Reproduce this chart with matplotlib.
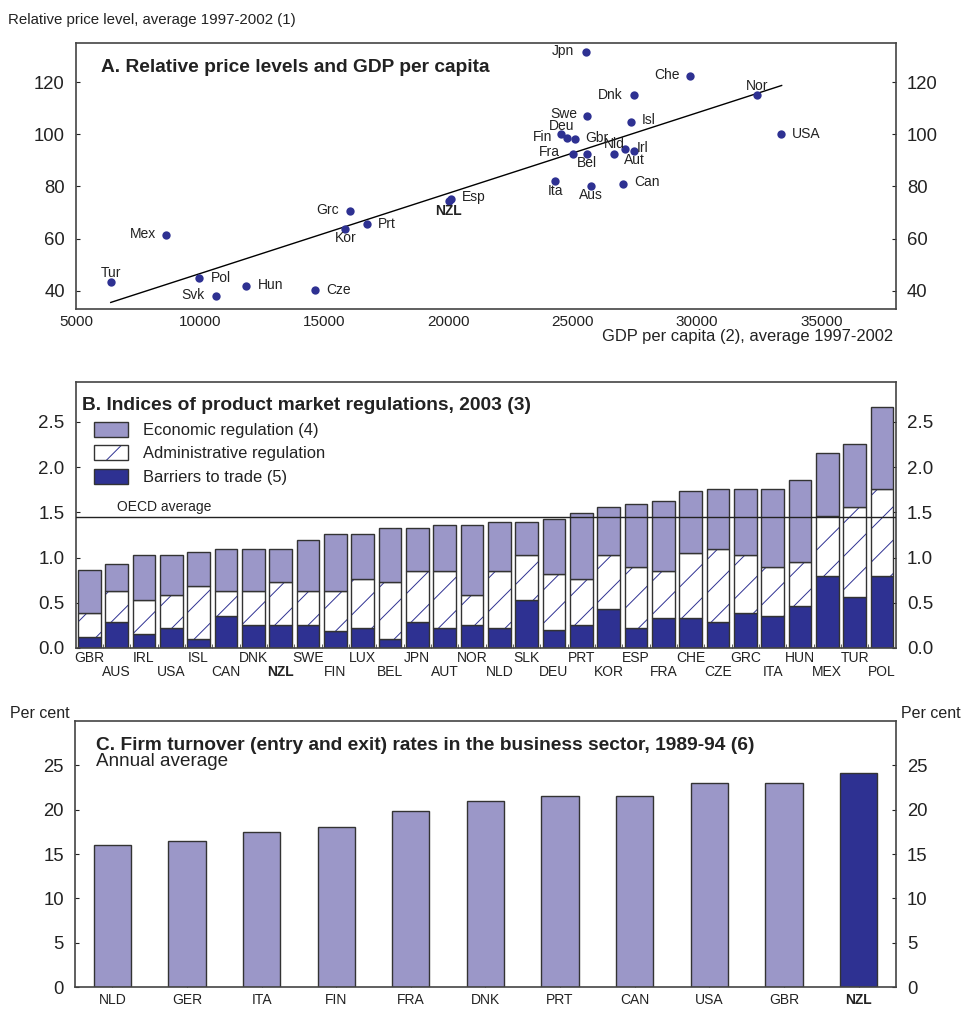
import numpy as np
import matplotlib.pyplot as plt
import matplotlib.patches as mpatches
from matplotlib.legend_handler import HandlerTuple

plt.rcParams['font.family'] = ['Liberation Sans', 'DejaVu Sans']
plt.rcParams['hatch.linewidth'] = 0.7

LIGHT = '#9b97c8'
DARK = '#2e3192'
EDGE = '#333333'
FRAME = '#444444'

# Panel A: relative price level vs GDP per capita
countries_a = ['Tur', 'Mex', 'Pol', 'Svk', 'Hun', 'Cze', 'Kor', 'Grc', 'Prt', 'NZL',
               'Esp', 'Ita', 'Fin', 'Deu', 'Fra', 'Gbr', 'Bel', 'Jpn', 'Swe', 'Aus',
               'Nld', 'Can', 'Irl', 'Isl', 'Aut', 'Dnk', 'Che', 'Nor', 'USA']
gdp_pc = [6395, 8630, 9965, 10635, 11836, 14615, 15846, 16046, 16716, 20000,
          20100, 24294, 24534, 24747, 24988, 25068, 25549, 25521, 25549, 25710,
          26672, 27020, 27114, 27325, 27474, 27446, 29731, 32418, 33368]
price_level = [43.2, 61.3, 44.7, 37.8, 41.8, 40.4, 63.8, 70.4, 65.7, 74.5,
               75.0, 82.1, 100.0, 98.4, 92.5, 98.0, 92.5, 131.5, 107.0, 80.0,
               92.5, 81.0, 94.3, 104.8, 93.6, 114.9, 122.3, 114.9, 100.0]
trend_gdp = [6400, 33400]
trend_price = [35.5, 118.7]

# Panel B: product market regulation indices
countries_b = ['GBR', 'AUS', 'IRL', 'USA', 'ISL', 'CAN', 'DNK', 'NZL', 'SWE', 'FIN',
               'LUX', 'BEL', 'JPN', 'AUT', 'NOR', 'NLD', 'SLK', 'DEU', 'PRT', 'KOR',
               'ESP', 'FRA', 'CHE', 'CZE', 'GRC', 'ITA', 'HUN', 'MEX', 'TUR', 'POL']
barriers = [0.12, 0.29, 0.16, 0.22, 0.10, 0.35, 0.25, 0.25, 0.25, 0.19,
            0.22, 0.10, 0.29, 0.22, 0.25, 0.22, 0.53, 0.20, 0.25, 0.43,
            0.22, 0.33, 0.33, 0.29, 0.39, 0.35, 0.46, 0.80, 0.56, 0.80]
admin = [0.27, 0.34, 0.37, 0.37, 0.59, 0.28, 0.38, 0.48, 0.38, 0.44,
         0.54, 0.63, 0.56, 0.63, 0.34, 0.63, 0.50, 0.62, 0.51, 0.60,
         0.67, 0.52, 0.72, 0.80, 0.64, 0.54, 0.49, 0.66, 1.00, 0.96]
economic = [0.47, 0.30, 0.50, 0.44, 0.37, 0.46, 0.46, 0.36, 0.56, 0.63,
            0.50, 0.60, 0.48, 0.51, 0.77, 0.54, 0.36, 0.61, 0.73, 0.53,
            0.70, 0.77, 0.68, 0.67, 0.73, 0.87, 0.91, 0.70, 0.70, 0.90]
oecd_avg = 1.45

# Panel C: firm turnover rates
countries_c = ['NLD', 'GER', 'ITA', 'FIN', 'FRA', 'DNK', 'PRT', 'CAN', 'USA', 'GBR', 'NZL']
turnover = [16.0, 16.5, 17.5, 18.0, 19.8, 21.0, 21.5, 21.5, 23.0, 23.0, 24.1]

# label placement for the scatter: (dx, dy) in points, ha
label_pos = {
    'Tur': (0, 6.5, 'center'), 'Mex': (-7.5, 0.5, 'right'), 'Pol': (8, 0, 'left'),
    'Svk': (-8.5, 1, 'right'), 'Hun': (8.5, 1, 'left'), 'Cze': (8, 0, 'left'),
    'Kor': (0, -7, 'center'), 'Grc': (-8.5, 1, 'right'), 'Prt': (8, 0, 'left'),
    'NZL': (0, -7.5, 'center'), 'Esp': (8, 1.5, 'left'), 'Ita': (0, -7, 'center'),
    'Fin': (-6.5, -2, 'right'), 'Deu': (-3.6, 9, 'center'), 'Fra': (-9, 1, 'right'),
    'Gbr': (8, 1, 'left'), 'Bel': (0, -6.5, 'center'), 'Jpn': (-8.5, 1, 'right'),
    'Swe': (-7, 1.5, 'right'), 'Aus': (0, -6.5, 'center'), 'Nld': (0, 7, 'center'),
    'Can': (8, 1, 'left'), 'Irl': (8, 1, 'left'), 'Isl': (8, 1.5, 'left'),
    'Aut': (0, -6.5, 'center'), 'Dnk': (-8, 0.5, 'right'), 'Che': (-8, 1, 'right'),
    'Nor': (0, 6.5, 'center'), 'USA': (8, 0.5, 'left'),
}

fig = plt.figure(figsize=(9.64, 10.09), dpi=100)
TXT = '#222222'


def style_frame(ax):
    for s in ax.spines.values():
        s.set_color(FRAME)
        s.set_linewidth(1.2)


#
# Panel A
#
axA = fig.add_axes([0.0788, 0.6938, 0.8506, 0.2636])
style_frame(axA)
axA.plot(trend_gdp, trend_price, color='black', lw=1.0, zorder=2)
axA.scatter(gdp_pc, price_level, s=36, color=DARK, zorder=3, linewidths=0)
for c, x, y in zip(countries_a, gdp_pc, price_level):
    dx, dy, ha = label_pos[c]
    axA.annotate(c, (x, y), xytext=(dx, dy), textcoords='offset points',
                 ha=ha, va='center', fontsize=10, color=TXT,
                 fontweight='bold' if c == 'NZL' else 'normal')
axA.set_xlim(5000, 38000)
axA.set_ylim(33, 135)
axA.set_xticks([5000, 10000, 15000, 20000, 25000, 30000, 35000])
axA.set_yticks([40, 60, 80, 100, 120])
axA.tick_params(axis='y', direction='in', length=3, right=True, labelright=True,
                labelsize=13.3, pad=8, colors=TXT)
axA.tick_params(axis='x', direction='in', length=0, labelsize=11, pad=4, colors=TXT)
axA.text(0.030, 0.891, 'A. Relative price levels and GDP per capita', transform=axA.transAxes,
         fontsize=13.8, fontweight='bold', color=TXT, va='baseline')
fig.text(8 / 964, 1 - 20 / 1009, 'Relative price level, average 1997-2002 (1)',
         fontsize=10.8, color=TXT, va='center')
fig.text(893 / 964, 1 - 337 / 1009, 'GDP per capita (2), average 1997-2002',
         fontsize=11.9, color=TXT, va='center', ha='right')

#
# Panel B
#
axB = fig.add_axes([0.0785, 0.3578, 0.8506, 0.2636])
style_frame(axB)
xb = np.arange(len(countries_b))
bar_w = 0.82
bar_b = np.array(barriers)
bar_a = np.array(admin)
bar_e = np.array(economic)
axB.bar(xb, bar_b, bar_w, color=DARK, edgecolor=EDGE, lw=1, zorder=2)
axB.bar(xb, bar_a, bar_w, bottom=bar_b, facecolor='white', edgecolor=DARK,
        hatch='/', lw=0, zorder=2)
axB.bar(xb, bar_a, bar_w, bottom=bar_b, fill=False, edgecolor=EDGE, lw=1, zorder=2)
axB.bar(xb, bar_e, bar_w, bottom=bar_b + bar_a, color=LIGHT, edgecolor=EDGE, lw=1, zorder=2)
axB.axhline(oecd_avg, color=TXT, lw=1, zorder=3)
axB.text(1.0, oecd_avg + 0.03, 'OECD average', fontsize=10, color=TXT, va='bottom')
axB.set_xlim(-0.5, len(countries_b) - 0.5)
axB.set_ylim(0, 2.94)
axB.set_yticks([0, 0.5, 1.0, 1.5, 2.0, 2.5])
axB.set_yticklabels(['0.0', '0.5', '1.0', '1.5', '2.0', '2.5'])
axB.tick_params(axis='y', direction='in', length=3, right=True, labelright=True,
                labelsize=13.5, pad=8, colors=TXT)
axB.set_xticks(xb)
axB.set_xticklabels([c if i % 2 == 0 else '\n' + c for i, c in enumerate(countries_b)])
axB.set_xticks(np.arange(len(countries_b) - 1) + 0.5, minor=True)
axB.tick_params(axis='x', which='major', length=0, labelsize=10, pad=2, colors=TXT)
axB.tick_params(axis='x', which='minor', direction='in', length=3, color=FRAME)
for i, lab in enumerate(axB.get_xticklabels()):
    lab.set_linespacing(1.05)
    if countries_b[i] == 'NZL':
        lab.set_fontweight('bold')
axB.text(0.0073, 0.895, 'B. Indices of product market regulations, 2003 (3)',
         transform=axB.transAxes, fontsize=13.8, fontweight='bold', color=TXT,
         va='baseline')
h_econ = mpatches.Patch(facecolor=LIGHT, edgecolor=EDGE, lw=1)
h_admin = (mpatches.Patch(facecolor='white', edgecolor=DARK, hatch='/', lw=0),
           mpatches.Patch(fill=False, edgecolor=EDGE, lw=1))
h_bar = mpatches.Patch(facecolor=DARK, edgecolor=EDGE, lw=1)
axB.legend([h_econ, h_admin, h_bar],
           ['Economic regulation (4)', 'Administrative regulation', 'Barriers to trade (5)'],
           handler_map={tuple: HandlerTuple(ndivide=1)},
           loc='upper left', bbox_to_anchor=(0.0223, 0.850), frameon=False,
           fontsize=11.9, borderpad=0, borderaxespad=0, handlelength=2.05,
           handleheight=1.0, labelspacing=0.45, handletextpad=0.9, labelcolor=TXT)

#
# Panel C
#
axC = fig.add_axes([0.0778, 0.0218, 0.8516, 0.2636])
style_frame(axC)
xc = np.arange(len(countries_c))
colors_c = [DARK if c == 'NZL' else LIGHT for c in countries_c]
axC.bar(xc, turnover, 0.5, color=colors_c, edgecolor=EDGE, lw=1, zorder=2)
axC.set_xlim(-0.5, len(countries_c) - 0.5)
axC.set_ylim(0, 30)
axC.set_yticks([0, 5, 10, 15, 20, 25])
axC.tick_params(axis='y', direction='in', length=3, right=True, labelright=True,
                labelsize=13.3, pad=8, colors=TXT)
axC.set_xticks(xc)
axC.set_xticklabels(countries_c)
axC.tick_params(axis='x', direction='in', length=3, labelsize=10, pad=4, colors=TXT)
for lab in axC.get_xticklabels():
    if lab.get_text() == 'NZL':
        lab.set_fontweight('bold')
axC.text(0.026, 0.891, 'C. Firm turnover (entry and exit) rates in the business sector, 1989-94 (6)',
         transform=axC.transAxes, fontsize=13.8, fontweight='bold', color=TXT,
         va='baseline')
axC.text(0.026, 0.831, 'Annual average', transform=axC.transAxes, fontsize=13.6,
         color=TXT, va='baseline')
fig.text(10 / 964, 1 - 714 / 1009, 'Per cent', fontsize=11.5, color=TXT, va='center')
fig.text(901 / 964, 1 - 714 / 1009, 'Per cent', fontsize=11.5, color=TXT, va='center')

fig.savefig('out.png', dpi=100)
